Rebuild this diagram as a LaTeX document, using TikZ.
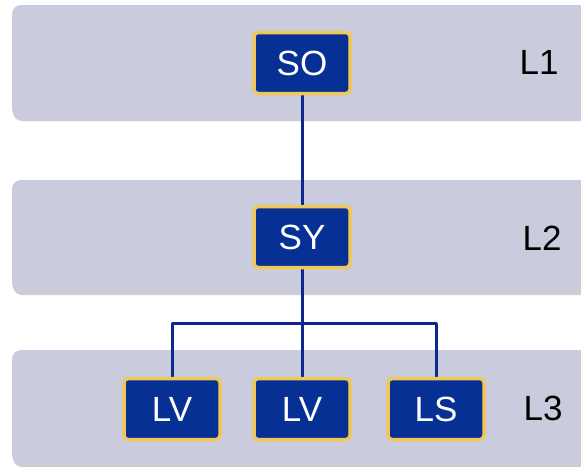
\documentclass[tikz,border=0pt]{standalone}
\usepackage{fontspec}
\setmainfont{Liberation Sans}
\definecolor{bandfill}{RGB}{203,203,222}
\definecolor{bandshadow}{RGB}{170,170,185}
\definecolor{boxfill}{RGB}{6,48,148}
\definecolor{boxborder}{RGB}{240,200,90}
\definecolor{linkcol}{RGB}{12,40,140}
\pgfdeclarelayer{background}
\pgfsetlayers{background,main}
\begin{document}
\begin{tikzpicture}[x=1pt,y=-1pt,
  band/.style={fill=bandfill,draw=none,rounded corners=9pt},
  bshadow/.style={fill=bandshadow,draw=none,rounded corners=9pt,opacity=0.6},
  unit/.style={draw=boxborder,line width=3.5pt,fill=boxfill,rounded corners=4pt,
    minimum width=96pt,minimum height=61pt,inner sep=0pt,text=white,
    font=\fontsize{35}{40}\selectfont},
  lvl/.style={font=\fontsize{35}{40}\selectfont,text=black,inner sep=0pt},
  link/.style={draw=linkcol,line width=3pt}]
\useasboundingbox (0,0) rectangle (581,466);
% boxes
\node[unit] (so) at (302,63) {SO};
\node[unit] (sy) at (302,237) {SY};
\node[unit] (lv1) at (172,409) {LV};
\node[unit] (lv2) at (302,409) {LV};
\node[unit] (ls) at (436,409) {LS};
\node[lvl] (l1) at (539,62) {L1};
\node[lvl] (l2) at (542,238) {L2};
\node[lvl] (l3) at (543,408) {L3};
\coordinate (j) at (302,323);
\begin{pgfonlayer}{background}
\fill[white] (0,0) rectangle (581,466);
\fill[bshadow] (13,7) rectangle (600,121);
\fill[band] (12,5) rectangle (600,118);
\fill[bshadow] (13,182) rectangle (600,295);
\fill[band] (12,180) rectangle (600,292);
\fill[bshadow] (13,352) rectangle (600,467);
\fill[band] (12,350) rectangle (600,464);
\draw[link] (so.south) -- (sy.north);
\draw[link] (sy.south) -- (lv2.north);
\draw[link,line join=round] (lv1.north) |- (j) -| (ls.north);
\end{pgfonlayer}
\end{tikzpicture}
\end{document}
